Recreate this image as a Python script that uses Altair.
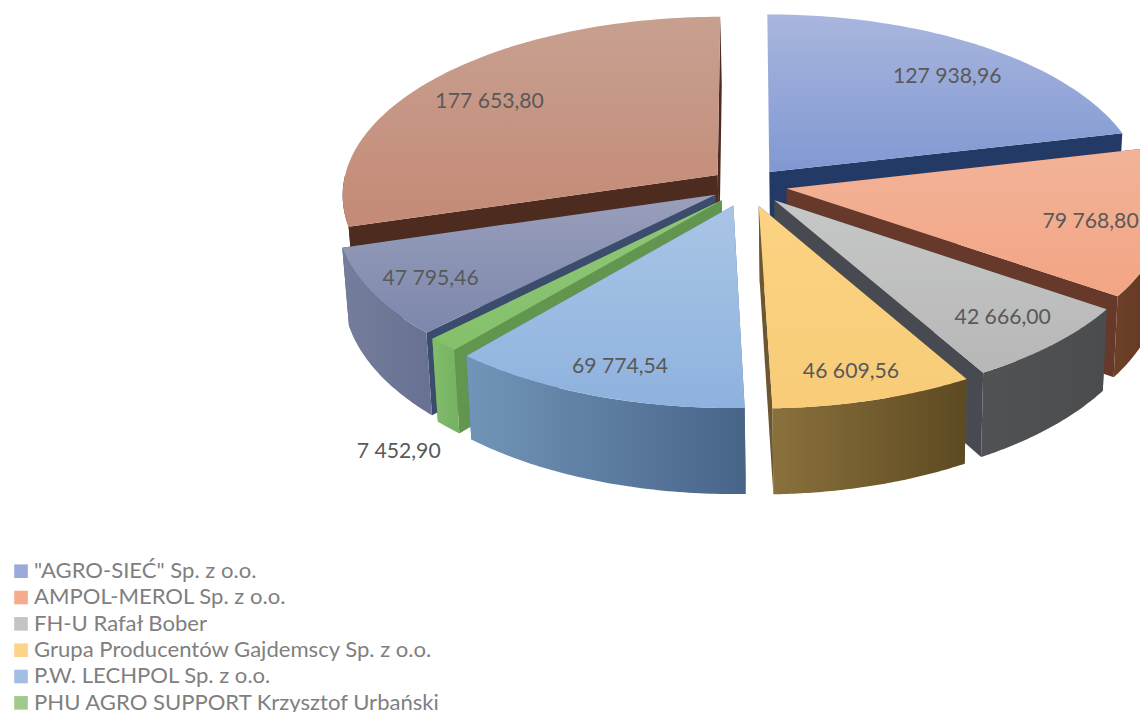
import numpy as np
import pandas as pd
import altair as alt

NAMES = ['"AGRO-SIEĆ" Sp. z o.o.', 'AMPOL-MEROL Sp. z o.o.', 'FH-U Rafał Bober',
         'Grupa Producentów Gajdemscy Sp. z o.o.', 'P.W. LECHPOL Sp. z o.o.',
         'PHU AGRO SUPPORT Krzysztof Urbański']
VALUES = [127938.96, 79768.80, 42666.00, 46609.56, 69774.54, 7452.90, 47795.46, 177653.80]
LABELS = ['127 938,96', '79 768,80', '42 666,00', '46 609,56', '69 774,54', '7 452,90', '47 795,46', '177 653,80']
LEGEND_COLORS = ['#9aa9d8', '#f4ab8e', '#c4c4c4', '#fdd28a', '#a2bfe3', '#a0c98c']

TOP = [('#a9b6de', '#8098d2'), ('#f2b398', '#f2a584'), ('#c6c7c7', '#b7b7b7'), ('#fbd382', '#f8cc78'),
       ('#a9c5e6', '#8eb2de'), ('#8fc677', '#84c06c'), ('#999fbb', '#7d87ad'), ('#c8a090', '#c48a76')]
RIM = [('#243a66', '#243a66'), ('#6e4029', '#5e3520'), ('#505253', '#4a4c4d'), ('#8a713c', '#5d4a22'),
       ('#7195b8', '#486489'), ('#82bd6c', '#76b062'), ('#767d9c', '#687192'), ('#4d2c1f', '#4d2c1f')]
CUT = ['#243a66', '#66392a', '#484a52', '#6d5730', '#4f6f95', '#62964f', '#3c4c6c', '#4d2c1f']
PAINT_ORDER = [0, 7, 1, 6, 5, 2, 4, 3]
LABEL_R = [0.82, 0.92, 0.90, 0.88, 0.91, 1.45, 0.92, 0.80]
LABEL_SHIFT = [0, 0, 0, 0, 0, -4, 0, 0]
LABEL_DX = [6, -34, -14, -3, 13, 69, 30, -2]
LABEL_DY = [6, 0, -11, 0, -8, 19, -7, 3]
NUDGE_X = [4, 9, 7, 5, 0, 0, 0, 0]
NUDGE_Y = [-4, -3, 0, 2, 2, 0, -2, -4]

CX, VX, HZ, KP, RX, DEPTH, CY, EXPL = 747.0, 747.0, 1670.0, 0.1076, 380.0, 77.0, 186.0, 0.09
VY = CY - HZ


def project(X, Z, drop=0.0):
    w = 1 + KP * Z
    x = VX + (CX - VX + RX * X) / w
    y = VY + (HZ + drop) / w
    if drop:
        x = x - 0.014 * (x - 830)
    return x, y


def placed(s, xs, ys):
    return np.asarray(xs, dtype=float) + NUDGE_X[s], np.asarray(ys, dtype=float) + NUDGE_Y[s]


def scaled(points):
    return pd.DataFrame({"x": points[0], "y": points[1], "i": np.arange(len(points[0]))})


X_ENC = alt.X("x:Q", axis=None, scale=alt.Scale(domain=[0, 1148], nice=False, zero=False))
Y_ENC = alt.Y("y:Q", axis=None, scale=alt.Scale(domain=[712, 8], nice=False, zero=False))


def shape(points, stops, vertical=True):
    if isinstance(stops, str):
        fill = stops
    else:
        fill = alt.Gradient(gradient="linear", x1=0, y1=0, x2=0 if vertical else 1, y2=1 if vertical else 0,
                            stops=[alt.GradientStop(color=stops[0], offset=0), alt.GradientStop(color=stops[1], offset=1)])
    return alt.Chart(scaled(points)).mark_line(filled=True, fill=fill, strokeWidth=0, clip=True).encode(
        x=X_ENC, y=Y_ENC, order="i:Q")


total = sum(VALUES)
edges = np.concatenate([[0], np.cumsum(VALUES)]) / total * 2 * np.pi
layers = []
for s in PAINT_ORDER:
    a, b = edges[s], edges[s + 1]
    mid = (a + b) / 2
    X0, Z0 = EXPL * np.sin(mid), EXPL * np.cos(mid)
    for t in (a, b):
        X1, Z1 = X0 + np.sin(t), Z0 + np.cos(t)
        p = [project(X0, Z0), project(X1, Z1), project(X1, Z1, DEPTH), project(X0, Z0, DEPTH)]
        layers.append(shape(placed(s, [q[0] for q in p], [q[1] for q in p]), CUT[s]))
    lo, hi = max(a, np.pi / 2), min(b, 3 * np.pi / 2)
    if hi > lo:
        ts = np.linspace(lo, hi, 60)
        xt, yt = project(X0 + np.sin(ts), Z0 + np.cos(ts))
        xb, yb = project(X0 + np.sin(ts), Z0 + np.cos(ts), DEPTH)
        layers.append(shape(placed(s, np.concatenate([xt, xb[::-1]]), np.concatenate([yt, yb[::-1]])), RIM[s], vertical=False))
    ts = np.linspace(a, b, 90)
    xt, yt = project(X0 + np.sin(ts), Z0 + np.cos(ts))
    ax, ay = project(X0, Z0)
    layers.append(shape(placed(s, np.concatenate([[ax], xt]), np.concatenate([[ay], yt])), TOP[s]))

label_x, label_y = [], []
for s, lab in enumerate(LABELS):
    mid = (edges[s] + edges[s + 1]) / 2
    X0, Z0 = EXPL * np.sin(mid), EXPL * np.cos(mid)
    t = mid + np.radians(LABEL_SHIFT[s])
    lx, ly = project(X0 + LABEL_R[s] * np.sin(t), Z0 + LABEL_R[s] * np.cos(t))
    label_x.append(lx + LABEL_DX[s])
    label_y.append(ly + LABEL_DY[s])

text = alt.Chart(pd.DataFrame({"x": label_x, "y": label_y, "t": LABELS})).mark_text(
    font="Lato", fontSize=21.5, color="#595959", align="center", baseline="middle").encode(
    x=X_ENC, y=Y_ENC, text="t:N")
layers.append(text)

legend_df = pd.DataFrame({"name": NAMES, "x": [100.0] * len(NAMES), "y": [600.0] * len(NAMES)})
legend = alt.Chart(legend_df).mark_square(opacity=0).encode(
    x=X_ENC, y=Y_ENC,
    color=alt.Color("name:N", scale=alt.Scale(domain=NAMES, range=LEGEND_COLORS), sort=NAMES,
                    legend=alt.Legend(title=None, orient="none", legendX=2, legendY=555, symbolType="square",
                                      symbolSize=190, symbolOpacity=1, symbolStrokeWidth=0,
                                      labelFont="Lato", labelFontSize=22.4, labelColor="#7f7f7f", labelLimit=600,
                                      rowPadding=3.7, labelOffset=2, padding=0)))
layers.append(legend)

chart = alt.layer(*layers).properties(
    width=1148, height=704, padding=0, background="white",
    autosize=alt.AutoSizeParams(type="none"),
).configure_view(stroke=None)

chart.save("out.html", embed_options={"renderer": "svg", "actions": False})
